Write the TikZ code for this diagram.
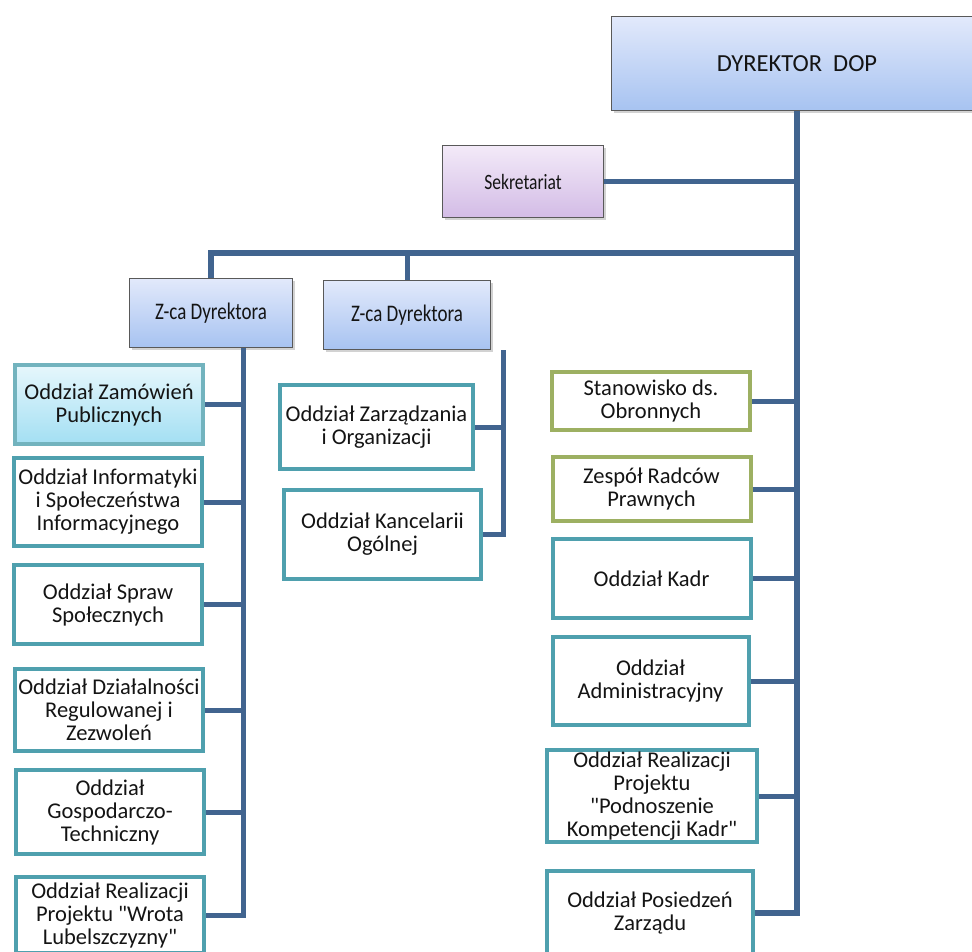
\documentclass[tikz,border=0pt]{standalone}
\usepackage{fontspec}
\usepackage{graphicx}
\setmainfont{Carlito}[Ligatures=TeXOff]
\usetikzlibrary{shadows}

\newcommand{\tallbox}[1]{\scalebox{1}[1.25]{#1}}

\definecolor{linkblue}{HTML}{41648F}
\definecolor{tealline}{HTML}{4FA0AE}
\definecolor{oliveline}{HTML}{9DB062}
\definecolor{headtop}{HTML}{E2E9FB}
\definecolor{headbottom}{HTML}{A7C3F1}
\definecolor{secrtop}{HTML}{F3EAF8}
\definecolor{secrbottom}{HTML}{D3BCE6}
\definecolor{cyantop}{HTML}{E6F7FC}
\definecolor{cyanbottom}{HTML}{A3DFF3}
\definecolor{textgray}{HTML}{141414}

\tikzset{
	head/.style={draw=gray!70!black, line width=1pt,
		top color=headtop, bottom color=headbottom,
		drop shadow={shadow xshift=2pt, shadow yshift=-2pt, opacity=0.35},
		text=textgray, inner sep=0pt, align=center},
	unit/.style={draw=tealline, line width=4pt, fill=white,
		text=textgray, inner sep=0pt, align=center,
		font=\fontsize{22.5}{23}\selectfont},
	post/.style={unit, draw=oliveline},
	link/.style={draw=linkblue, line width=5pt},
	trunk/.style={link, line width=6.5pt}
}

\begin{document}
\begin{tikzpicture}[x=1pt, y=-1pt]

\fill[white] (0,0) rectangle (972,951);
\useasboundingbox (0,0) rectangle (972,951);

% Heads
\node[head, minimum width=371pt, minimum height=94pt,
	font=\fontsize{24.5}{28}\selectfont] (dyr) at (797,63.5) {DYREKTOR~~DOP};
\node[head, top color=secrtop, bottom color=secrbottom,
	minimum width=161pt, minimum height=72pt,
	font=\fontsize{17.5}{21}\selectfont] (sekr) at (523,181.5) {\tallbox{Sekretariat}};
\node[head, minimum width=163pt, minimum height=69pt,
	font=\fontsize{19}{22}\selectfont] (zca1) at (211,313) {\tallbox{Z-ca Dyrektora}};
\node[head, minimum width=167pt, minimum height=69pt,
	font=\fontsize{19}{22}\selectfont] (zca2) at (407,315) {\tallbox{Z-ca Dyrektora}};

\coordinate (bus) at (797,253);
\coordinate (ltrunk) at (243,0);
\coordinate (mtrunk) at (503,0);

% Left column
\node[unit, draw=tealline!80, top color=cyantop, bottom color=cyanbottom,
	drop shadow={shadow xshift=2pt, shadow yshift=-2pt, opacity=0.3},
	minimum width=188pt, minimum height=79pt] (zam) at (109,404.5)
	{Oddział Zamówień\\Publicznych};
\foreach \name/\x/\y/\h/\txt in {
	inf/108/502/88/{Oddział Informatyki\\i Społeczeństwa\\Informacyjnego},
	spr/108/604.5/79/{Oddział Spraw\\Społecznych},
	dzi/109/710/82/{Oddział Działalności\\Regulowanej i\\Zezwoleń},
	gos/110/812/84/{Oddział\\Gospodarczo-\\Techniczny},
	wro/110/915/76/{Oddział Realizacji\\Projektu "Wrota\\Lubelszczyzny"}}
{
	\node[unit, minimum width=188pt, minimum height=\h pt] (\name) at (\x,\y) {\txt};
}

% Middle column
\node[unit, minimum width=193pt, minimum height=84pt] (zar) at (376.5,427)
	{Oddział Zarządzania\\i Organizacji};
\node[unit, minimum width=197pt, minimum height=89pt] (kan) at (382.5,534.5)
	{Oddział Kancelarii\\Ogólnej};

% Right column
\node[post, minimum width=198pt, minimum height=58pt] (obr) at (651,401)
	{Stanowisko ds.\\Obronnych};
\node[post, minimum width=198pt, minimum height=64pt] (rad) at (651.5,489)
	{Zespół Radców\\Prawnych};
\foreach \name/\x/\y/\w/\h/\txt in {
	kad/651.5/578.5/198/79/{Oddział Kadr},
	adm/650.5/681/196/88/{Oddział\\Administracyjny},
	pod/652/796/210/92/{Oddział Realizacji\\Projektu\\"Podnoszenie\\Kompetencji Kadr"},
	posi/650/913/206/84/{Oddział Posiedzeń\\Zarządu}}
{
	\node[unit, minimum width=\w pt, minimum height=\h pt] (\name) at (\x,\y) {\txt};
}

% Connect heads
\draw[trunk] (dyr.south) |- (posi.east);
\draw[link] (sekr.east) -- (sekr.east -| dyr.south);
\draw[trunk] (zca1.north) |- (bus);
\draw[link] (zca2.north) -- (zca2.north |- bus);

% Connect left column
\draw[link] (zca1.south -| ltrunk) |- (wro.east);
\foreach \name in {zam,inf,spr,dzi,gos}
{
	\draw[link] (\name.east) -- (\name.east -| ltrunk);
}

% Connect middle column
\draw[link] (zca2.south -| mtrunk) |- (kan.east);
\draw[link] (zar.east) -- (zar.east -| mtrunk);

% Connect right column
\foreach \name in {obr,rad,kad,adm,pod}
{
	\draw[link] (\name.east) -- (\name.east -| dyr.south);
}

\end{tikzpicture}
\end{document}
